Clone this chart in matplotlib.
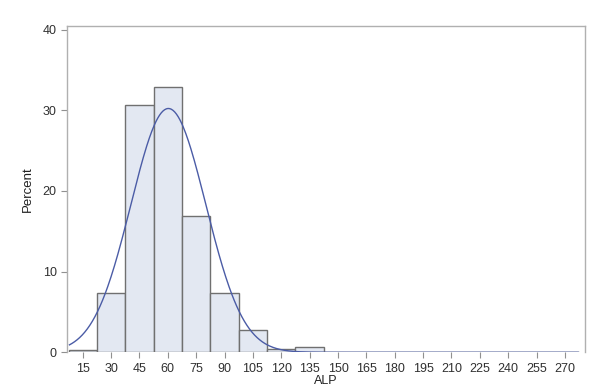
import numpy as np
import matplotlib
matplotlib.use("Agg")
import matplotlib.pyplot as plt

plt.rcParams['font.family'] = ['Liberation Sans', 'DejaVu Sans']

bin_centers = [15, 30, 45, 60, 75, 90, 105, 120, 135, 150, 165, 180, 195, 210, 225, 240, 255, 270]
percents = [0.25, 7.3, 30.7, 32.9, 16.9, 7.4, 2.75, 0.4, 0.7, 0.05, 0.05, 0, 0, 0, 0, 0, 0, 0.08]
bin_width = 15
normal_mu = 60.3
normal_sigma = 19.8
x_ticks = [15, 30, 45, 60, 75, 90, 105, 120, 135, 150, 165, 180, 195, 210, 225, 240, 255, 270]
y_ticks = [0, 10, 20, 30, 40]

fig = plt.figure(figsize=(6.06, 3.89), dpi=100)
ax = fig.add_axes([67/606, 1 - 352.3/389, (585-67)/606, (352.3-26)/389])

ax.bar(bin_centers, percents, width=bin_width, color='#e3e8f2', edgecolor='#707070', linewidth=1.0, zorder=2)

xs = np.linspace(8, 277, 600)
ys = 100 * bin_width * np.exp(-(xs - normal_mu) ** 2 / (2 * normal_sigma ** 2)) / (normal_sigma * np.sqrt(2 * np.pi))
ax.plot(xs, ys, color='#4b5ca6', linewidth=1.0, zorder=3)

ax.set_xlim(6.7, 280.6)
ax.set_ylim(0, 40.45)
ax.set_xticks(x_ticks)
ax.set_yticks(y_ticks)
ax.tick_params(axis='both', labelsize=9, colors='#303030', length=4, width=0.8, direction='out')
ax.tick_params(axis='both', color='#909090')
for s in ax.spines.values():
    s.set_color('#b0b0b0')
    s.set_linewidth(1.0)
ax.spines['bottom'].set_visible(False)
ax.set_ylabel('Percent', fontsize=9.5, color='#202020', labelpad=6)
ax.set_xlabel('ALP', fontsize=9, color='#202020', labelpad=0.5)

fig.savefig('out.png', dpi=100)
